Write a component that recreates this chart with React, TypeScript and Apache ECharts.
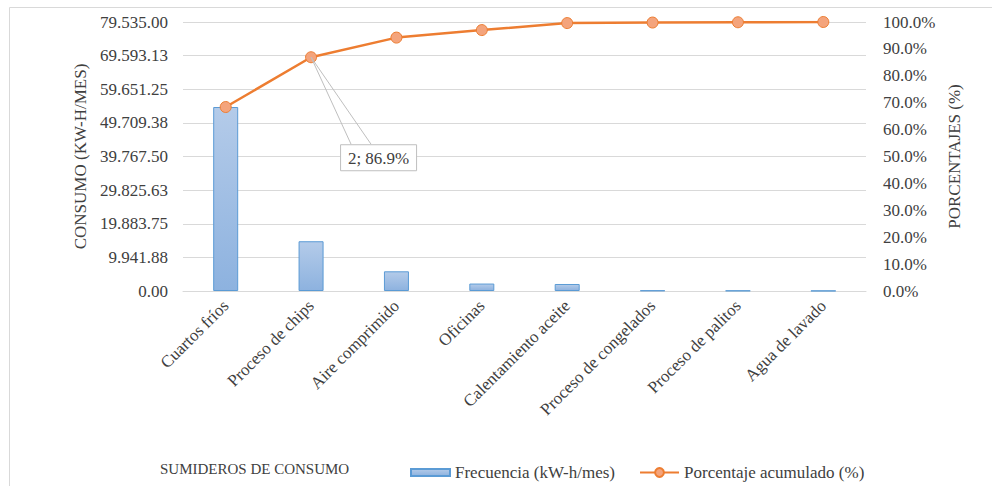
import React, { useEffect, useRef } from "react";
import * as echarts from "echarts";

const categories = [
  "Cuartos fríos",
  "Proceso de chips",
  "Aire comprimido",
  "Oficinas",
  "Calentamiento aceite",
  "Proceso de congelados",
  "Proceso de palitos",
  "Agua de lavado",
];
// Monthly consumption per sink (kW-h/mes)
const consumo = [54403, 14713, 5825, 2200, 2070, 150, 110, 64];
// Cumulative share (%)
const acumulado = [68.4, 86.9, 94.2, 97.0, 99.6, 99.8, 99.9, 100.0];
const consumoMax = 79535;
const consumoStep = 9941.875;
const calloutIndex = 1;

const FONT = "Liberation Serif";
const TEXT = "#404040";
const FS = 17;

function fmtConsumo(v: number): string {
  const [i, d] = v.toFixed(2).split(".");
  return i.replace(/\B(?=(\d{3})+(?!\d))/g, ".") + "." + d;
}

export default function App() {
  const ref = useRef<HTMLDivElement>(null);

  useEffect(() => {
    if (!ref.current) return;
    const chart = echarts.init(ref.current, null, { renderer: "svg" });

    const baseGraphic: any[] = [
      {
        id: "frame",
        type: "rect",
        shape: { x: 9.5, y: 7.5, width: 1000, height: 1000 },
        style: { fill: "none", stroke: "#d9d9d9", lineWidth: 1 },
        silent: true,
      },
      {
        id: "xname",
        type: "text",
        left: 160,
        top: 461,
        style: { text: "SUMIDEROS DE CONSUMO", fontFamily: FONT, fontSize: 15, fill: TEXT },
      },
    ];

    chart.setOption({
      animation: false,
      textStyle: { fontFamily: FONT },
      grid: { left: 183, right: 126, top: 22, bottom: 195 },
      legend: {
        left: 405,
        top: 459,
        itemGap: 24,
        itemWidth: 39,
        itemHeight: 11,
        textStyle: { fontFamily: FONT, fontSize: FS, color: TEXT },
        data: [
          { name: "Frecuencia (kW-h/mes)", icon: "path://M0,0H39V7H0Z" },
          { name: "Porcentaje acumulado (%)" },
        ],
      },
      xAxis: {
        type: "category",
        data: categories,
        axisLine: { lineStyle: { color: "#d9d9d9", width: 1 } },
        axisTick: { show: false },
        axisLabel: {
          rotate: 45,
          margin: 12,
          interval: 0,
          fontFamily: FONT,
          fontSize: FS,
          color: TEXT,
        },
      },
      yAxis: [
        {
          type: "value",
          min: 0,
          max: consumoMax,
          interval: consumoStep,
          name: "CONSUMO (KW-H/MES)",
          nameLocation: "middle",
          nameGap: 80,
          nameTextStyle: { fontFamily: FONT, fontSize: FS, color: TEXT },
          axisLine: { show: false },
          axisTick: { show: false },
          splitLine: { lineStyle: { color: "#d9d9d9", width: 1 } },
          axisLabel: {
            margin: 15,
            fontFamily: FONT,
            fontSize: FS,
            color: TEXT,
            formatter: (v: number) => fmtConsumo(v),
          },
        },
        {
          type: "value",
          min: 0,
          max: 100,
          interval: 10,
          name: "PORCENTAJES (%)",
          nameLocation: "middle",
          nameGap: 75,
          nameTextStyle: { fontFamily: FONT, fontSize: FS, color: TEXT },
          axisLine: { show: false },
          axisTick: { show: false },
          splitLine: { show: false },
          axisLabel: {
            margin: 17,
            fontFamily: FONT,
            fontSize: FS,
            color: TEXT,
            formatter: (v: number) => v.toFixed(1) + "%",
          },
        },
      ],
      series: [
        {
          name: "Frecuencia (kW-h/mes)",
          type: "bar",
          data: consumo,
          barWidth: 25,
          itemStyle: {
            color: new echarts.graphic.LinearGradient(0, 0, 0, 1, [
              { offset: 0, color: "#b4cbe9" },
              { offset: 1, color: "#8db2df" },
            ]),
            borderColor: "#5b9bd5",
            borderWidth: 1,
          },
        },
        {
          name: "Porcentaje acumulado (%)",
          type: "line",
          yAxisIndex: 1,
          data: acumulado,
          symbol: "circle",
          symbolSize: 11,
          lineStyle: { color: "#ed7d31", width: 2.5 },
          itemStyle: { color: "#f4a47c", borderColor: "#ed7d31", borderWidth: 1 },
          z: 5,
        },
      ],
      graphic: baseGraphic,
    });

    // Callout for the second cumulative point
    const pt = chart.convertToPixel({ seriesIndex: 1 }, [
      calloutIndex,
      acumulado[calloutIndex],
    ]) as number[];
    const bx = pt[0] + 29;
    const by = pt[1] + 87;
    const bw = 76;
    const bh = 26;
    chart.setOption({
      graphic: [
        ...baseGraphic,
        {
          id: "callout-wedge",
          type: "polyline",
          shape: {
            points: [
              [bx + 11, by],
              [pt[0], pt[1]],
              [bx + 31, by],
            ],
          },
          style: { stroke: "#bfbfbf", lineWidth: 1, fill: "none" },
          z: 10,
        },
        {
          id: "callout-box",
          type: "rect",
          shape: { x: bx + 0.5, y: by + 0.5, width: bw, height: bh },
          style: { fill: "#ffffff", stroke: "#bfbfbf", lineWidth: 1 },
          z: 11,
        },
        {
          id: "callout-text",
          type: "text",
          x: bx + bw / 2 + 0.5,
          y: by + bh / 2 + 1,
          style: {
            text: `${calloutIndex + 1}; ${acumulado[calloutIndex].toFixed(1)}%`,
            fontFamily: FONT,
            fontSize: FS,
            fill: TEXT,
            align: "center",
            verticalAlign: "middle",
          },
          z: 12,
        },
      ],
    });

    return () => chart.dispose();
  }, []);

  return (
    <div
      ref={ref}
      style={{ position: "fixed", left: 0, top: 0, width: 992, height: 486, background: "#fff" }}
    />
  );
}
